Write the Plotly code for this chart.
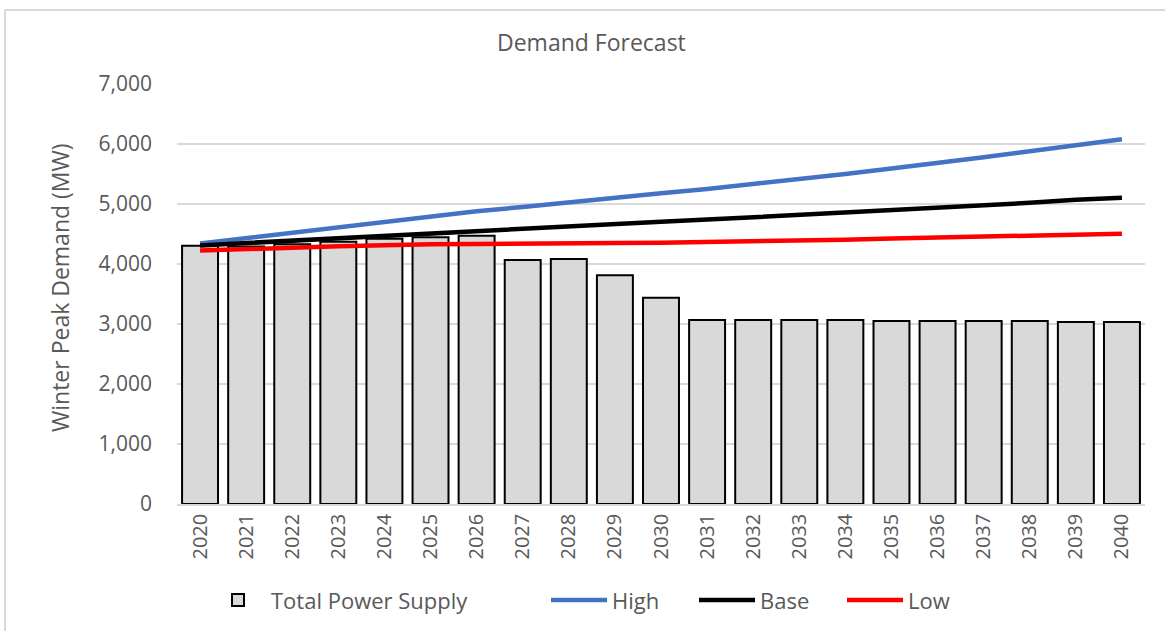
import plotly.graph_objects as go

# Forecast years
years = [str(y) for y in range(2020, 2041)]

# Total power supply (MW)
supply = [4305, 4290, 4330, 4370, 4420, 4445, 4472, 4067, 4083, 3811, 3438,
          3067, 3067, 3067, 3067, 3050, 3050, 3050, 3050, 3033, 3033]

# Winter peak demand scenarios (MW)
high = [4340, 4430, 4520, 4620, 4710, 4800, 4880, 4950, 5030, 5100, 5180,
        5250, 5330, 5410, 5500, 5590, 5680, 5780, 5880, 5980, 6080]
base = [4310, 4350, 4390, 4440, 4480, 4520, 4560, 4600, 4640, 4670, 4705,
        4740, 4780, 4810, 4850, 4885, 4930, 4970, 5020, 5070, 5105]
low = [4225, 4240, 4270, 4295, 4315, 4330, 4335, 4335, 4340, 4350, 4355,
       4365, 4380, 4390, 4405, 4425, 4440, 4455, 4470, 4490, 4505]

y_ticks = [0, 1000, 2000, 3000, 4000, 5000, 6000, 7000]

FONT = "Open Sans"
GREY_TXT = "#595959"

fig = go.Figure()
fig.add_trace(go.Bar(
    x=years, y=supply, name="Total Power Supply", legendwidth=270,
    marker=dict(color="#d9d9d9", line=dict(color="black", width=2)),
))
fig.add_trace(go.Scatter(x=years, y=high, name="High", mode="lines",
                         legendwidth=77,
                         line=dict(color="#4472C4", width=4.5)))
fig.add_trace(go.Scatter(x=years, y=base, name="Base", mode="lines",
                         legendwidth=77,
                         line=dict(color="black", width=4.5)))
fig.add_trace(go.Scatter(x=years, y=low, name="Low", mode="lines",
                         legendwidth=60,
                         line=dict(color="#FF0000", width=4.5)))

fig.update_layout(
    width=1165, height=631,
    margin=dict(l=177, r=20, t=84, b=127, autoexpand=False),
    paper_bgcolor="white", plot_bgcolor="white",
    bargap=0.22,
    font=dict(family=FONT, color=GREY_TXT),
    showlegend=True,
    legend=dict(orientation="h", x=(205 - 177) / 968, xanchor="left",
                y=-0.229, yanchor="middle",
                font=dict(size=22, color=GREY_TXT, family=FONT),
                itemwidth=56, traceorder="normal"),
    xaxis=dict(type="category", tickangle=-90,
               tickfont=dict(size=20, color=GREY_TXT),
               showgrid=False, showline=True, linecolor="#d9d9d9", linewidth=1.5,
               ticks=""),
    yaxis=dict(range=[0, 7000], tickvals=y_ticks, tickformat=",d",
               tickfont=dict(size=21, color=GREY_TXT),
               showgrid=True, gridcolor="#d9d9d9", gridwidth=1.5,
               zeroline=False, showline=False, ticks="",
               ticklabelstandoff=24),
)

# Chart title
fig.add_annotation(text="Demand Forecast", xref="paper", yref="paper",
                   x=(591 - 177) / 968, y=(504 - 42) / 420,
                   xanchor="center", yanchor="middle", showarrow=False,
                   font=dict(size=23, color=GREY_TXT, family=FONT))

# Y-axis title
fig.add_annotation(text="Winter Peak Demand (MW)", xref="paper", yref="paper",
                   x=(60 - 177) / 968, y=(504 - 288) / 420,
                   xanchor="center", yanchor="middle", textangle=-90,
                   showarrow=False,
                   font=dict(size=23, color=GREY_TXT, family=FONT))

# Chart frame (top and left edges)
fig.add_shape(type="line", xref="paper", yref="paper",
              x0=(5 - 177) / 968, x1=(1200 - 177) / 968,
              y0=(504 - 10) / 420, y1=(504 - 10) / 420,
              line=dict(color="#d9d9d9", width=2))
fig.add_shape(type="line", xref="paper", yref="paper",
              x0=(5 - 177) / 968, x1=(5 - 177) / 968,
              y0=(504 - 10) / 420, y1=(504 - 700) / 420,
              line=dict(color="#d9d9d9", width=2))

fig.write_html("out.html")
